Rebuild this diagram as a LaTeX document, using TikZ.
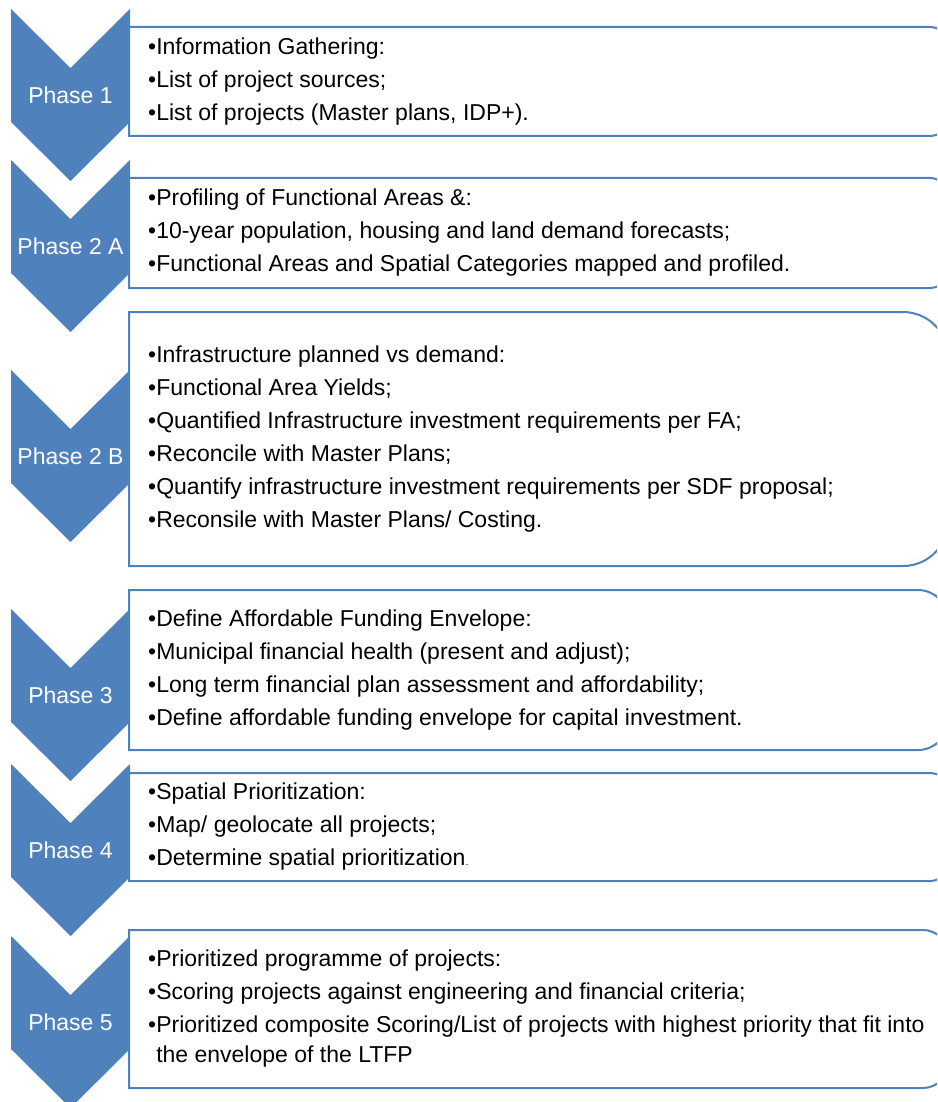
\documentclass[tikz,border=0pt]{standalone}
\usepackage{fontspec}
\setmainfont{Liberation Sans}
\definecolor{phaseblue}{HTML}{4F81BD}
\tikzset{
  chev/.style={fill=phaseblue,draw=none},
  boxline/.style={draw=phaseblue,line width=2pt,fill=white},
  phaselbl/.style={text=white,inner sep=0pt,font=\fontsize{23}{26}\selectfont},
  txt/.style={anchor=west,inner sep=0pt,align=left,font=\fontsize{23}{33}\selectfont}
}
\begin{document}
\begin{tikzpicture}[x=1pt,y=-1pt]
\useasboundingbox (0,0) rectangle (937,1102);
\begin{scope}
\clip (0,0) rectangle (937,1102);
% chevrons: top of each chevron and its label
\foreach \t/\lbl/\nm in {9/Phase 1/ph1,160/Phase 2 A/ph2a,370/Phase 2 B/ph2b,609/Phase 3/ph3,764/Phase 4/ph4,936/Phase 5/ph5} {
  \fill[chev] (11,\t) -- (70.5,\t+59) -- (130,\t) -- (130,\t+113) -- (70.5,\t+172) -- (11,\t+113) -- cycle;
  \node[phaselbl] (\nm) at (70.5,\t+86) {\lbl};
}
% boxes: square on the left, rounded on the right (cut by the page edge)
\foreach \tp/\bt/\r in {27/136/18,178/288/18,312/566/45,590/750/30,773/881/18,930/1088/25} {
  \draw[boxline] (129,\tp) -- (948-\r,\tp) arc[start angle=90,end angle=0,radius=\r pt]
    -- (948,\bt-\r) arc[start angle=0,end angle=-90,radius=\r pt] -- (129,\bt) -- cycle;
}
\end{scope}
% box texts
\node[txt] (info) at (148,81.5) {•Information Gathering:\\•List of project sources;\\•List of projects (Master plans, IDP+).};
\node[txt] (profile) at (148,233) {•Profiling of Functional Areas \&:\\•10-year population, housing and land demand forecasts;\\•Functional Areas and Spatial Categories mapped and profiled.};
\node[txt] (infra) at (148,439) {•Infrastructure planned vs demand:\\•Functional Area Yields;\\•Quantified Infrastructure investment requirements per FA;\\•Reconcile with Master Plans;\\•Quantify infrastructure investment requirements per SDF proposal;\\•Reconsile with Master Plans/ Costing.};
\node[txt] (funding) at (148,670) {•Define Affordable Funding Envelope:\\•Municipal financial health (present and adjust);\\•Long term financial plan assessment and affordability;\\•Define affordable funding envelope for capital investment.};
\node[txt] (spatial) at (148,827) {•Spatial Prioritization:\\•Map/ geolocate all projects;\\•Determine spatial prioritization{\fontsize{10}{10}\selectfont.}};
\node[txt] (programme) at (148,1009) {•Prioritized programme of projects:\\•Scoring projects against engineering and financial criteria;\\•Prioritized composite Scoring/List of projects with highest priority that fit into\\[-3pt]\phantom{•}the envelope of the LTFP};
\end{tikzpicture}
\end{document}
